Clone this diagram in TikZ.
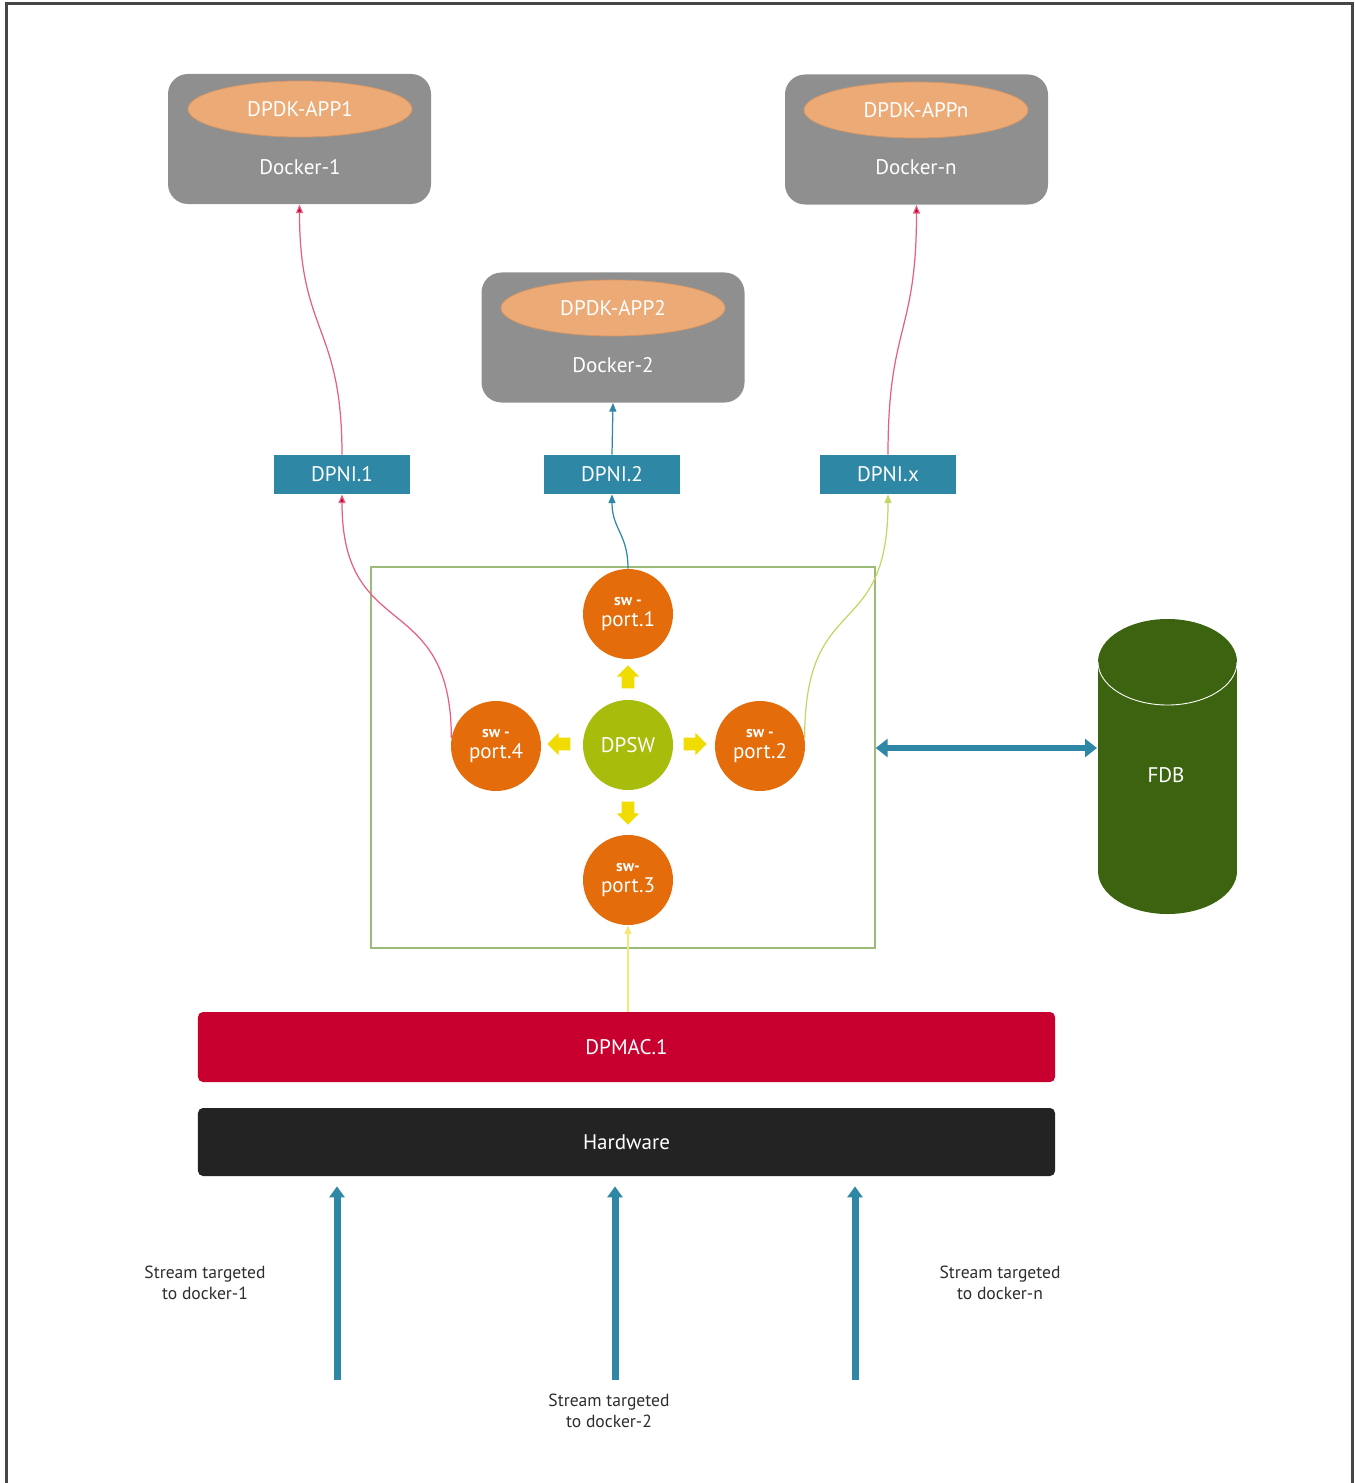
\documentclass[tikz,border=0pt]{standalone}
\usepackage{fontspec}
\setmainfont{PT Sans}
\usepackage{tikz}
\usetikzlibrary{shapes.geometric, shapes.arrows, arrows.meta}
\definecolor{mygray}{RGB}{143,143,143}
\definecolor{mypeach}{RGB}{235,170,118}
\definecolor{mypeachline}{RGB}{215,150,100}
\definecolor{myteal}{RGB}{46,135,165}
\definecolor{myorange}{RGB}{228,108,10}
\definecolor{mylime}{RGB}{168,188,12}
\definecolor{myyellow}{RGB}{240,220,0}
\definecolor{mycrimson}{RGB}{200,0,48}
\definecolor{myblack}{RGB}{35,35,35}
\definecolor{myforest}{RGB}{60,100,16}
\definecolor{mysage}{RGB}{155,187,120}
\definecolor{mypink}{RGB}{230,95,130}
\definecolor{mychart}{RGB}{196,214,100}
\definecolor{mypale}{RGB}{245,232,120}
\definecolor{myframe}{RGB}{70,70,70}
\definecolor{mytext}{RGB}{45,45,45}
\tikzset{
  docker/.style={rectangle, fill=mygray, minimum width=5.26cm,
    minimum height=2.6cm, rounded corners=0.4cm},
  app/.style={ellipse, fill=mypeach, draw=mypeachline, line width=0.4pt,
    minimum width=4.48cm, minimum height=1.12cm, text=white, font=\large},
  dlabel/.style={text=white, font=\large},
  dpni/.style={rectangle, fill=myteal, minimum width=2.72cm,
    minimum height=0.78cm, text=white, font=\large},
  port/.style={circle, fill=myorange, minimum size=1.8cm, inner sep=0pt,
    text=white, align=center, font=\large},
  swnode/.style={circle, fill=mylime, minimum size=1.8cm, inner sep=0pt,
    text=white, font=\large},
  yarrow/.style={single arrow, fill=myyellow, inner xsep=0.06cm,
    inner ysep=0.12cm, minimum height=0.46cm,
    single arrow head extend=0.1cm, single arrow head indent=0pt},
  bar/.style={rectangle, minimum width=17.14cm, rounded corners=0.1cm,
    text=white, font=\large},
  swframe/.style={rectangle, draw=mysage, line width=0.8pt,
    minimum width=10.08cm, minimum height=7.62cm},
  stream/.style={align=center, text=mytext, font=\normalsize},
  pinkarrow/.style={-{Triangle[length=5pt,width=4pt,fill=mycrimson]}, draw=mypink, line width=0.7pt},
  bluearrow/.style={-{Triangle[length=5pt,width=4pt]}, draw=myteal, line width=0.7pt},
  limearrow/.style={-{Triangle[length=5pt,width=4pt]}, draw=mychart, line width=0.7pt},
  palearrow/.style={-{Triangle[length=5pt,width=4pt]}, draw=mypale, line width=0.7pt},
  fatarrow/.style={-{Triangle[length=0.22cm,width=0.3cm]}, draw=myteal, line width=0.14cm},
  fatboth/.style={{Triangle[length=0.24cm,width=0.36cm]}-{Triangle[length=0.24cm,width=0.36cm]},
    draw=myteal, line width=0.13cm}
}
\begin{document}
\begin{tikzpicture}[x=0.2mm, y=-0.2mm]
  \useasboundingbox (0,0) rectangle (1354,1483);
  % page frame
  \draw[myframe, line width=0.06cm] (6,1483) -- (6,4) -- (1352,4) -- (1352,1483);
  % dockers
  \node[docker] (dock1) at (299.5,139) {};
  \node[app] (app1) at (300,109) {DPDK-APP1};
  \node[dlabel] (dlab1) at (300,167) {Docker-1};
  \node[docker] (dock2) at (613,337.5) {};
  \node[app] (app2) at (613,308) {DPDK-APP2};
  \node[dlabel] (dlab2) at (613,365) {Docker-2};
  \node[docker] (dockn) at (916.5,139.5) {};
  \node[app] (appn) at (916,110) {DPDK-APPn};
  \node[dlabel] (dlabn) at (916,167) {Docker-n};
  % dpni
  \node[dpni] (dpni1) at (342,474.5) {DPNI.1};
  \node[dpni] (dpni2) at (612,474.5) {DPNI.2};
  \node[dpni] (dpnix) at (888,474.5) {DPNI.x};
  % switch
  \node[swframe] (swbox) at (623,757.5) {};
  \node[swnode] (dpsw) at (628,745) {DPSW};
  \node[port] (port1) at (628,614) {{\small\bfseries sw -}\\[-2pt]port.1};
  \node[port] (port2) at (760,746) {{\small\bfseries sw -}\\[-2pt]port.2};
  \node[port] (port3) at (628,880) {{\small\bfseries sw-}\\[-2pt]port.3};
  \node[port] (port4) at (496,746) {{\small\bfseries sw -}\\[-2pt]port.4};
  \node[yarrow, rotate=90] (yup) at (628,680) {};
  \node[yarrow, rotate=-90] (ydown) at (628,810) {};
  \node[yarrow, rotate=180] (yleft) at (562,744) {};
  \node[yarrow] (yright) at (692,744) {};
  % mac and hardware
  \node[bar, fill=mycrimson, minimum height=1.4cm] (dpmac) at (626.5,1047) {DPMAC.1};
  \node[bar, fill=myblack, minimum height=1.36cm] (hw) at (626.5,1142) {Hardware};
  % fdb
  \fill[myforest] (1098,662) rectangle (1237,871);
  \fill[myforest] (1167.5,662) ellipse [x radius=1.39cm, y radius=0.86cm];
  \fill[myforest] (1167.5,871) ellipse [x radius=1.39cm, y radius=0.86cm];
  \draw[white, line width=0.5pt] (1098,662) arc [start angle=180, end angle=360, x radius=1.39cm, y radius=0.86cm];
  \node[text=white, font=\large] (fdb) at (1166,775) {FDB};
  \coordinate (fdbside) at (1097,748);
  \draw[fatboth] (swbox.east |- fdbside) -- (fdbside);
  % flows
  \draw[pinkarrow] (port4.170) .. controls +(0,-150) and +(0,150) .. (dpni1.south);
  \draw[pinkarrow] (dpni1.north) .. controls +(0,-130) and +(0,130) .. (dock1.south);
  \draw[bluearrow] (port1.north) .. controls +(0,-35) and +(0,35) .. (dpni2.south);
  \draw[bluearrow] (dpni2.north) -- (dock2.south);
  \draw[limearrow] (port2.10) .. controls +(0,-150) and +(0,150) .. (dpnix.south);
  \draw[pinkarrow] (dpnix.north) .. controls +(0,-130) and +(0,130) .. (dockn.south);
  \draw[palearrow] (port3.south |- dpmac.north) -- (port3.south);
  % streams
  \coordinate (s1) at (337,1380);
  \coordinate (s2) at (615,1380);
  \coordinate (sn) at (855,1380);
  \draw[fatarrow, shorten >=0.2cm] (s1) -- (s1 |- hw.south);
  \draw[fatarrow, shorten >=0.2cm] (s2) -- (s2 |- hw.south);
  \draw[fatarrow, shorten >=0.2cm] (sn) -- (sn |- hw.south);
  \node[stream] (lab1) at (205,1283) {Stream targeted\\to docker-1};
  \node[stream] (lab2) at (609,1411) {Stream targeted\\to docker-2};
  \node[stream] (labn) at (1000,1283) {Stream targeted\\to docker-n};
\end{tikzpicture}
\end{document}
